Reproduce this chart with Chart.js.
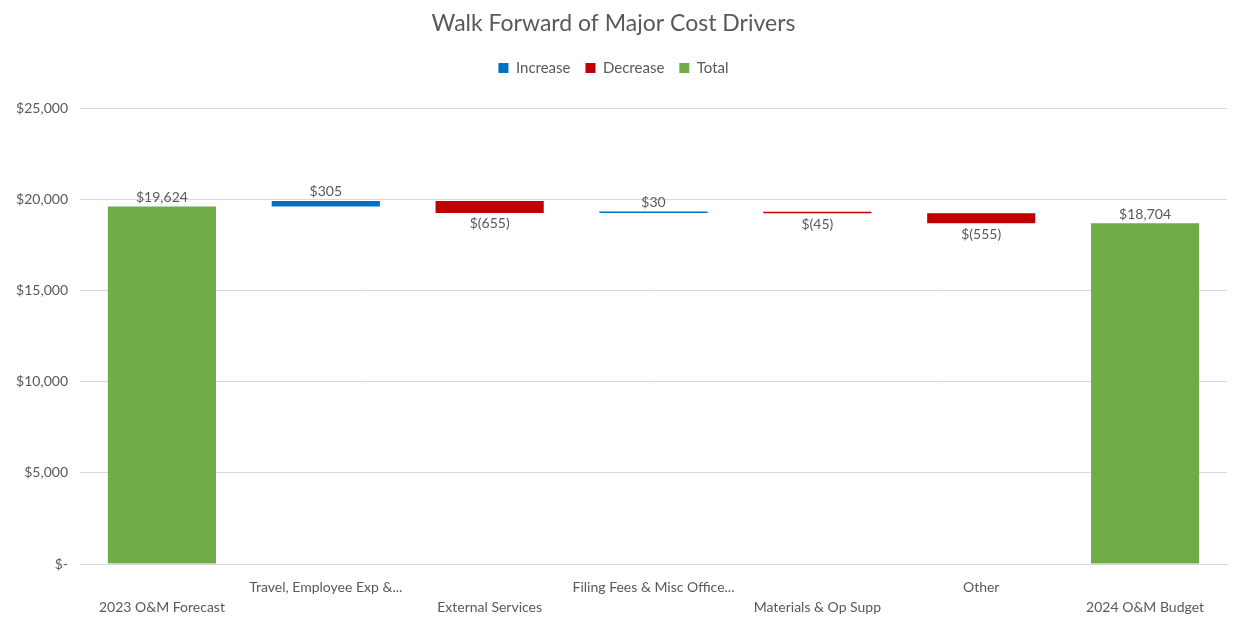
<!DOCTYPE html>
<html>
<head>
<meta charset="utf-8">
<script src="https://cdn.jsdelivr.net/npm/chart.js@4.4.1/dist/chart.umd.min.js"></script>
<style>
  html, body { margin: 0; padding: 0; background: #fff; }
  #wrap { width: 1239px; height: 628px; position: relative; }
</style>
</head>
<body>
<div id="wrap"><canvas id="walk"></canvas></div>
<script>
// cost drivers, walked from the 2023 forecast to the 2024 budget
const categories = ['2023 O&M Forecast', 'Travel, Employee Exp &...', 'External Services',
    'Filing Fees & Misc Office...', 'Materials & Op Supp', 'Other', '2024 O&M Budget'];
const startTotal = 19624;
const changes = [305, -655, 30, -45, -555];
const endTotal = 18704;
const yTicks = [0, 5000, 10000, 15000, 20000, 25000];

const textGray = '#595959';
const fontFamily = 'Lato, "Open Sans", sans-serif';

// build floating [from, to] ranges for each series
const increase = [null], decrease = [null], total = [[0, startTotal]];
let running = startTotal;
changes.forEach(c => {
    const next = running + c;
    increase.push(c > 0 ? [running, next] : null);
    decrease.push(c < 0 ? [running, next] : null);
    total.push(null);
    running = next;
});
increase.push(null);
decrease.push(null);
total.push([0, endTotal]);

const labelValues = [startTotal, ...changes, endTotal];

function money(v) {
    const s = Math.abs(v).toLocaleString('en-US');
    return v < 0 ? '$(' + s + ')' : '$' + s;
}

const valueLabels = {
    id: 'valueLabels',
    afterDatasetsDraw(chart) {
        const ctx = chart.ctx;
        ctx.save();
        ctx.font = '14px ' + fontFamily;
        ctx.fillStyle = textGray;
        ctx.textAlign = 'center';
        chart.data.datasets.forEach((ds, di) => {
            const meta = chart.getDatasetMeta(di);
            meta.data.forEach((bar, i) => {
                if (ds.data[i] == null) return;
                const v = labelValues[i];
                const top = Math.min(bar.y, bar.base);
                const bottom = Math.max(bar.y, bar.base);
                if (v < 0) {
                    ctx.textBaseline = 'top';
                    ctx.fillText(money(v), bar.x, bottom + 4);
                } else {
                    ctx.textBaseline = 'bottom';
                    ctx.fillText(money(v), bar.x, top - 2);
                }
            });
        });
        ctx.restore();
    }
};

// extra room between the legend and the plot
const legendGap = {
    id: 'legendGap',
    beforeInit(chart) {
        const fit = chart.legend.fit;
        chart.legend.fit = function () {
            fit.bind(chart.legend)();
            this.height += 23;
        };
    }
};

const barOpts = {
    borderWidth: 0,
    categoryPercentage: 1,
    barPercentage: 0.66,
    grouped: false,
    minBarLength: 1.5
};

new Chart(document.getElementById('walk'), {
    type: 'bar',
    data: {
        labels: categories,
        datasets: [
            { label: 'Increase', data: increase, backgroundColor: '#0070C0', ...barOpts },
            { label: 'Decrease', data: decrease, backgroundColor: '#C00000', ...barOpts },
            { label: 'Total', data: total, backgroundColor: '#70AD47', ...barOpts }
        ]
    },
    options: {
        responsive: true,
        maintainAspectRatio: false,
        animation: false,
        layout: { padding: { left: 0, right: 12, top: 0, bottom: 0 } },
        plugins: {
            title: {
                display: true,
                text: 'Walk Forward of Major Cost Drivers',
                color: textGray,
                font: { family: fontFamily, size: 23, weight: 'normal' },
                padding: { top: 10, bottom: 8 }
            },
            legend: {
                position: 'top',
                labels: {
                    color: textGray,
                    font: { family: fontFamily, size: 15 },
                    boxWidth: 10,
                    boxHeight: 10,
                    padding: 15
                }
            },
            tooltip: { enabled: false }
        },
        scales: {
            x: {
                grid: { display: false },
                border: { color: '#d9d9d9' },
                afterFit: scale => { scale.height = 64; },
                ticks: {
                    color: textGray,
                    font: { family: fontFamily, size: 14, lineHeight: 1.45 },
                    maxRotation: 0,
                    autoSkip: false,
                    padding: 5,
                    callback: (v, i) => i % 2 === 0 ? ['', categories[i]] : [categories[i], '']
                }
            },
            y: {
                min: 0,
                max: 25000,
                afterBuildTicks: scale => { scale.ticks = yTicks.map(v => ({ value: v })); },
                afterFit: scale => { scale.width = 80; },
                grid: { color: '#d9d9d9', drawTicks: false },
                border: { display: false },
                ticks: {
                    color: textGray,
                    font: { family: fontFamily, size: 14 },
                    padding: 12,
                    callback: v => v === 0 ? '$-' : '$' + v.toLocaleString('en-US')
                }
            }
        }
    },
    plugins: [valueLabels, legendGap]
});
</script>
</body>
</html>
